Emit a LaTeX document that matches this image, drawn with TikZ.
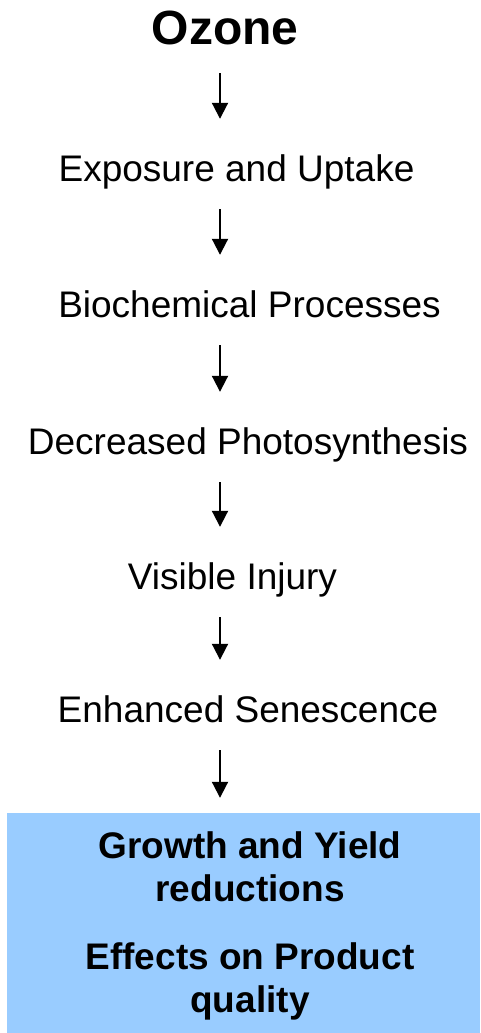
\documentclass[tikz,border=0pt]{standalone}
\usepackage{fontspec}
\setmainfont{Liberation Sans}
\usetikzlibrary{arrows.meta}
\definecolor{boxblue}{RGB}{153,204,255}
\begin{document}
\begin{tikzpicture}[x=1pt,y=-1pt,
    stage/.style={anchor=base,inner sep=0pt,text height=27pt,text depth=8pt,font=\fontsize{37}{44}\selectfont},
    result/.style={anchor=base,inner sep=0pt,align=center,font=\fontsize{37}{43}\selectfont\bfseries},
    flow/.style={-{Triangle[length=16pt,width=16pt]},line width=2pt,shorten <=20pt,shorten >=35pt}]
    \useasboundingbox (0,0) rectangle (480,1033);
    \coordinate (axis) at (220,0);
    \node[stage,font=\fontsize{48}{56}\selectfont\bfseries] (ozone) at (225,45) {Ozone};
    \node[stage] (uptake) at (236.5,181) {Exposure and Uptake};
    \node[stage] (biochem) at (249.5,317) {Biochemical Processes};
    \node[stage] (photo) at (248,454) {Decreased Photosynthesis};
    \node[stage] (injury) at (232.5,589) {Visible Injury};
    \node[stage] (senescence) at (248,722) {Enhanced Senescence};
    \node[fill=boxblue,minimum width=473pt,minimum height=220pt,inner sep=0pt] (box) at (243.5,923) {};
    \node[result] (growth) at (250,901) {Growth and Yield\\reductions};
    \node[result] (quality) at (250,1012) {Effects on Product\\quality};
    \draw[flow] (ozone.south -| axis) -- (uptake.north -| axis);
    \draw[flow] (uptake.south -| axis) -- (biochem.north -| axis);
    \draw[flow] (biochem.south -| axis) -- (photo.north -| axis);
    \draw[flow] (photo.south -| axis) -- (injury.north -| axis);
    \draw[flow] (injury.south -| axis) -- (senescence.north -| axis);
    \draw[flow,shorten >=15pt] (senescence.south -| axis) -- (box.north -| axis);
\end{tikzpicture}
\end{document}
